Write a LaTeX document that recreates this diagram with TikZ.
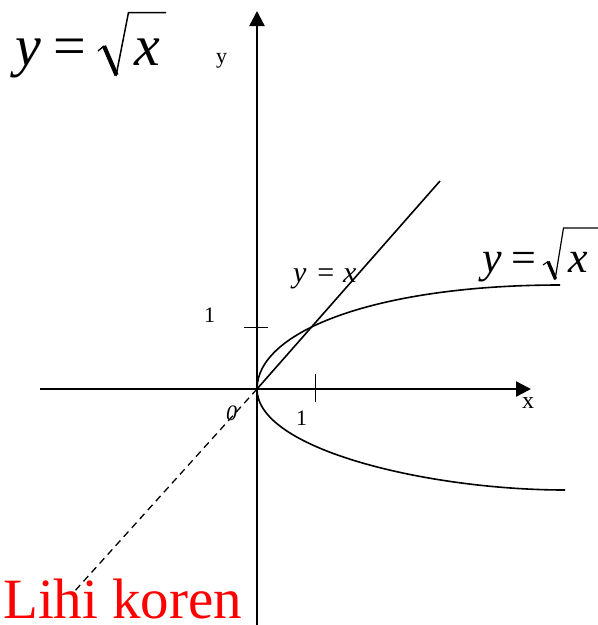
\documentclass[tikz,border=0pt]{standalone}
\usepackage{fontspec}
\setmainfont{Liberation Serif}
\usetikzlibrary{arrows.meta}
\begin{document}
\begin{tikzpicture}[x=1pt,y=-1pt,
  axis/.style={line width=2.4pt,-{Triangle[length=15pt,width=15pt]}},
  graph/.style={line width=1.6pt},
  tick/.style={line width=0.9pt},
  lbl/.style={inner sep=0pt,anchor=base west}]
\useasboundingbox (0,0) rectangle (598,625);
\coordinate (O) at (257,389);
\coordinate (xl) at (40,389);
\coordinate (xr) at (531,389);
\coordinate (yb) at (257,625);
\coordinate (yt) at (257,11);
\coordinate (L1) at (440,181);
\coordinate (L2) at (73,593);
\coordinate (U) at (560,285);
\coordinate (D) at (565,490);
% axes
\draw[axis] (xl) -- (xr);
\draw[axis] (yb) -- (yt);
% ticks
\draw[tick] (315,374) -- (315,402);
\draw[tick] (244,327) -- (268,327);
% y = x
\draw[graph] (O) -- (L1);
\draw[line width=1.3pt,dash pattern=on 7pt off 5pt] (O) -- (L2);
% parabola
\draw[graph] (O) .. controls (257,330) and (380,285) .. (U);
\draw[graph] (O) .. controls (257,450) and (430,490) .. (D);
% big formula, top left
\node[lbl,font=\fontsize{58}{60}\selectfont] (t1) at (15,65) {\textit{y}\hspace{0.22em}=};
\node[lbl,font=\fontsize{58}{60}\selectfont] (t1x) at (134,65) {\textit{x}};
\draw[line width=1.4pt] (98,51) -- (104,46);
\draw[line width=4.2pt] (104,46) -- (116.5,75);
\draw[line width=1.5pt] (116,76) -- (128.5,12.5) -- (166,12.5);
% formula at the curve
\node[lbl,font=\fontsize{44}{46}\selectfont] (t2) at (482,272) {\textit{y}\hspace{0.22em}=};
\node[lbl,font=\fontsize{44}{46}\selectfont] (t2x) at (568,272) {\textit{x}};
\draw[line width=1.1pt] (543,265) -- (548,261.5);
\draw[line width=3.3pt] (548,261.5) -- (555.5,279);
\draw[line width=1.2pt] (555,280) -- (563.5,228) -- (598,228);
% other labels
\node[lbl,font=\fontsize{30}{32}\selectfont] (t3) at (293,282) {\textit{y}\hspace{0.36em}=\hspace{0.3em}\textit{x}};
\node[lbl,font=\fontsize{22}{24}\selectfont] (ly) at (216,63) {y};
\node[lbl,font=\fontsize{24}{26}\selectfont] (lx) at (522,408) {x};
\node[lbl,font=\fontsize{22}{24}\selectfont] (l1y) at (204,322) {1};
\node[lbl,font=\fontsize{22}{24}\selectfont] (l1x) at (296,425) {1};
\node[lbl,font=\fontsize{22}{24}\selectfont] (l0) at (226,420) {\textit{0}};
\node[lbl,font=\fontsize{57}{60}\selectfont,text=red] (lk) at (3,618) {Lihi koren};
\end{tikzpicture}
\end{document}
